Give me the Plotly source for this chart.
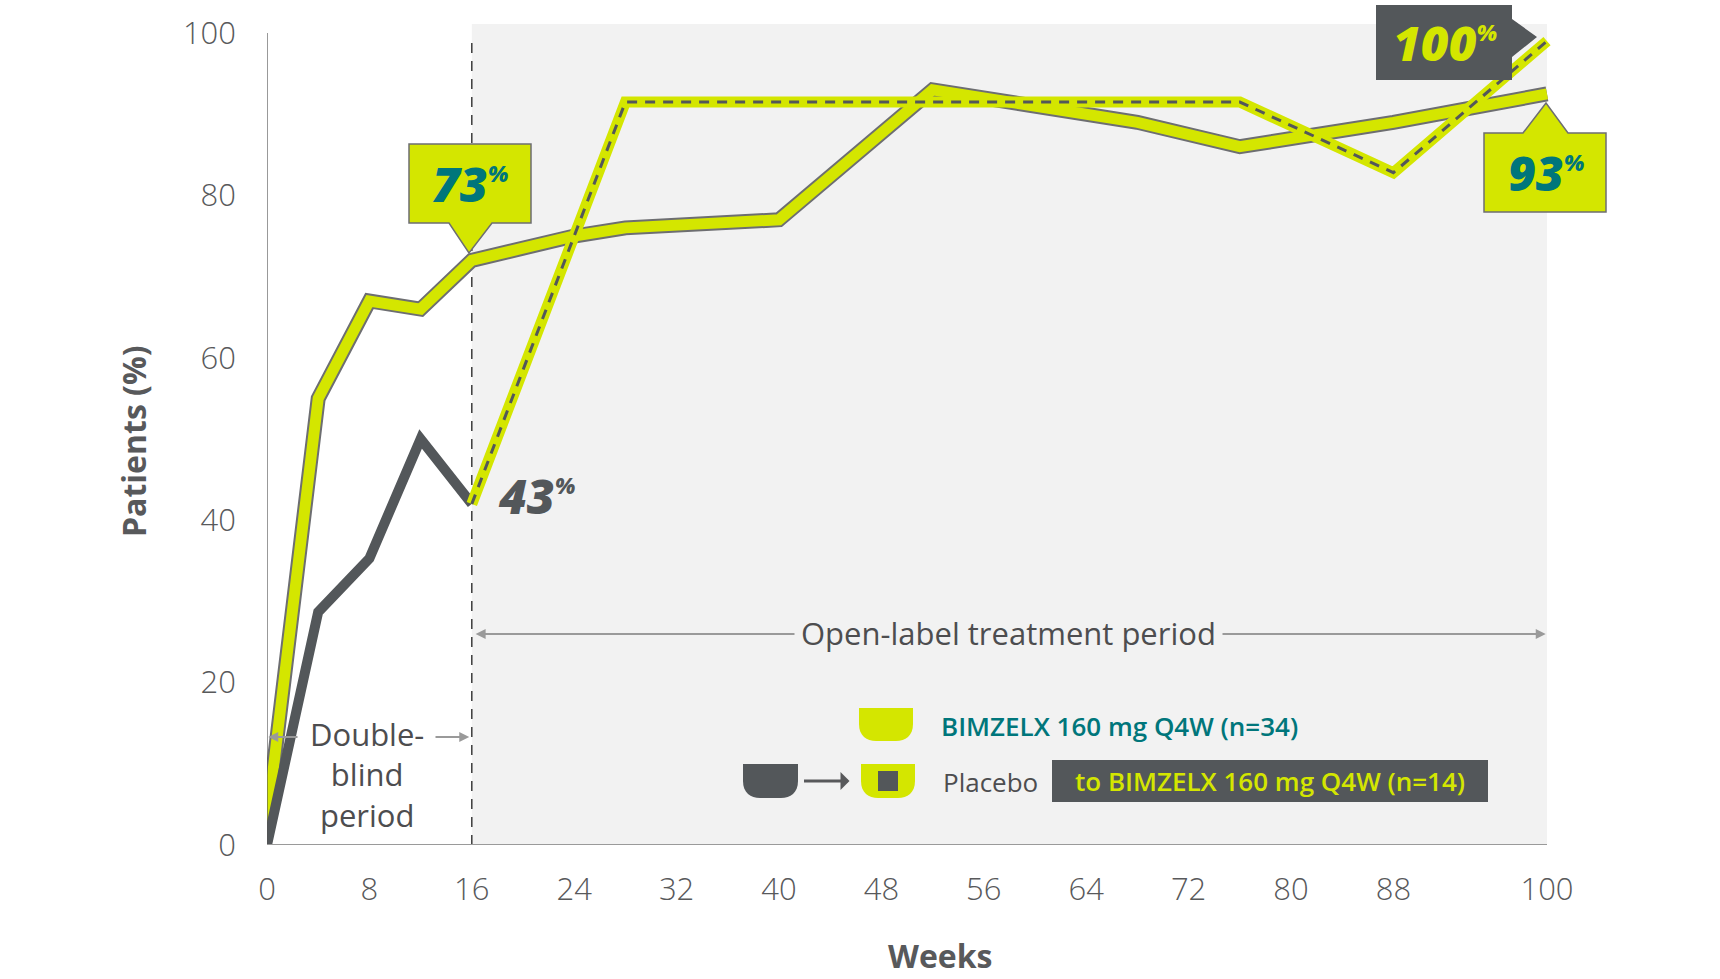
import plotly.graph_objects as go

# values
weeks_bimzelx = [0, 4, 8, 12, 16, 24, 28, 40, 52, 68, 76, 88, 100]
pct_bimzelx = [3, 55, 67, 66, 72, 75, 76, 77, 93, 89, 86, 89, 92.5]

weeks_placebo = [0, 4, 8, 12, 16]
pct_placebo = [0, 28.7, 35.3, 50, 42]

weeks_switch = [16, 28, 76, 88, 100]
pct_switch = [42, 91.5, 91.5, 82.8, 99]

x_ticks = [0, 8, 16, 24, 32, 40, 48, 56, 64, 72, 80, 88, 100]
y_ticks = [0, 20, 40, 60, 80, 100]

LIME = "#d4e600"
DARK = "#53575a"
TEAL = "#00767b"
GREY_TXT = "#58595b"
BG = "#f2f2f2"
FONT = "Open Sans"

# plot geometry (pixels) used to place the decorative callouts
W, H = 1720, 979
X0_PX, Y0_PX = 267, 845
PX_WK, PX_PCT = 12.8, 8.12
MARGIN_R = 40
PLOT_W = W - X0_PX - MARGIN_R


def wx(px):
    return (px - X0_PX) / PX_WK


def wy(py):
    return (Y0_PX - py) / PX_PCT


def poly(points):
    return "M " + " L ".join(f"{wx(a):.3f},{wy(b):.3f}" for a, b in points) + " Z"


def cup(x0, y0, x1, y1, r):
    return (f"M {wx(x0)},{wy(y0)} L {wx(x1)},{wy(y0)} L {wx(x1)},{wy(y1 - r)} "
            f"C {wx(x1)},{wy(y1 - r * 0.3)} {wx(x1 - r * 0.45)},{wy(y1)} {wx(x1 - r)},{wy(y1)} "
            f"L {wx(x0 + r)},{wy(y1)} "
            f"C {wx(x0 + r * 0.45)},{wy(y1)} {wx(x0)},{wy(y1 - r * 0.3)} {wx(x0)},{wy(y1 - r)} Z")


fig = go.Figure()

# BIMZELX line: dark outline under a lime band
fig.add_trace(go.Scatter(x=weeks_bimzelx, y=pct_bimzelx, mode="lines",
                         line=dict(color="#6d6e71", width=15), hoverinfo="skip"))
fig.add_trace(go.Scatter(x=weeks_bimzelx, y=pct_bimzelx, mode="lines",
                         line=dict(color=LIME, width=11), hoverinfo="skip"))
# placebo, double-blind period
fig.add_trace(go.Scatter(x=weeks_placebo, y=pct_placebo, mode="lines",
                         line=dict(color=DARK, width=10), hoverinfo="skip"))
# placebo -> BIMZELX
fig.add_trace(go.Scatter(x=weeks_switch, y=pct_switch, mode="lines",
                         line=dict(color=LIME, width=11), hoverinfo="skip"))
fig.add_trace(go.Scatter(x=weeks_switch, y=pct_switch, mode="lines",
                         line=dict(color=DARK, width=3, dash="10px,8px"), hoverinfo="skip"))

shapes = [
    dict(type="rect", x0=16, x1=100, y0=0, y1=wy(24), fillcolor=BG, line_width=0, layer="below"),
    dict(type="line", x0=16, x1=16, y0=0, y1=wy(43), line=dict(color="#3c3c3c", width=1.5, dash="10px,8px"),
         layer="below"),
    dict(type="line", x0=0, x1=0, y0=0, y1=100, line=dict(color="#555555", width=1.2)),
    dict(type="line", x0=0, x1=100, y0=0, y1=0, line=dict(color="#9a9a9a", width=2)),
    # callouts
    dict(type="path", path=poly([(409, 144), (531, 144), (531, 223), (492, 223), (469, 253), (449, 223), (409, 223)]),
         fillcolor=LIME, line=dict(color="#6d6e71", width=1.5)),
    dict(type="path", path=poly([(1484, 133), (1523, 133), (1546, 103), (1568, 133), (1606, 133), (1606, 212), (1484, 212)]),
         fillcolor=LIME, line=dict(color="#6d6e71", width=1.5)),
    dict(type="path", path=poly([(1376, 5), (1512, 5), (1512, 19), (1537, 37), (1512, 57), (1512, 80), (1376, 80)]),
         fillcolor=DARK, line_width=0),
    # legend icons
    dict(type="path", path=cup(859, 708, 913, 741, 17), fillcolor=LIME, line_width=0),
    dict(type="path", path=cup(743, 764, 798, 798, 17), fillcolor=DARK, line_width=0),
    dict(type="path", path=cup(861, 764, 915, 798, 17), fillcolor=LIME, line_width=0),
    dict(type="rect", x0=wx(878), x1=wx(898), y0=wy(791), y1=wy(771), fillcolor=DARK, line_width=0),
    dict(type="rect", x0=wx(1052), x1=wx(1488), y0=wy(802), y1=wy(760), fillcolor=DARK, line_width=0),
]

big = dict(family=FONT, size=48, weight=800, style="italic")
pct_sup = "<sup><span style='font-size:22px'>%</span></sup>"
body = dict(family=FONT, size=31, color="#4d4d4f")

annotations = [
    dict(x=wx(470), y=wy(183), text="73" + pct_sup, font=dict(big, color=TEAL)),
    dict(x=wx(1546), y=wy(172), text="93" + pct_sup, font=dict(big, color=TEAL)),
    dict(x=wx(1445), y=wy(42), text="100" + pct_sup, font=dict(big, color=LIME)),
    dict(x=wx(496), y=wy(495), text="43" + pct_sup, font=dict(big, color=DARK), xanchor="left"),
    # open-label arrows
    dict(x=16.3, y=wy(634), ax=58, ay=wy(634), axref="x", ayref="y", text="", showarrow=True,
         arrowhead=2, arrowsize=1, arrowwidth=2, arrowcolor="#9a9a9a"),
    dict(x=99.9, y=wy(634), ax=58, ay=wy(634), axref="x", ayref="y", text="", showarrow=True,
         arrowhead=2, arrowsize=1, arrowwidth=2, arrowcolor="#9a9a9a"),
    dict(x=wx(1008), y=wy(633), text="Open-label treatment period", font=body, bgcolor=BG, borderpad=6),
    # double-blind arrows
    dict(x=0.1, y=wy(737), ax=wx(299), ay=wy(737), axref="x", ayref="y", text="", showarrow=True,
         arrowhead=2, arrowsize=1, arrowwidth=2, arrowcolor="#9a9a9a"),
    dict(x=15.8, y=wy(737), ax=wx(434), ay=wy(737), axref="x", ayref="y", text="", showarrow=True,
         arrowhead=2, arrowsize=1, arrowwidth=2, arrowcolor="#9a9a9a"),
    dict(x=wx(367), y=wy(738), text="Double-<br>blind<br>period", font=body, yanchor="top", yshift=27),
    # legend
    dict(x=wx(804), y=wy(781), ax=wx(851), ay=wy(781), axref="x", ayref="y", text="", showarrow=True,
         arrowside="start", arrowhead=2, arrowsize=1, arrowwidth=3, arrowcolor=GREY_TXT),
    dict(x=wx(939), y=wy(726), text="BIMZELX 160 mg Q4W (n=34)", xanchor="left",
         font=dict(family=FONT, size=26, color=TEAL, weight=600)),
    dict(x=wx(941), y=wy(782), text="Placebo", xanchor="left",
         font=dict(family=FONT, size=26, color="#4d4d4f")),
    dict(x=wx(1270), y=wy(781), text="to BIMZELX 160 mg Q4W (n=14)",
         font=dict(family=FONT, size=26, color=LIME, weight=600)),
]
for a in annotations:
    a.setdefault("showarrow", False)
    a.setdefault("xref", "x")
    a.setdefault("yref", "y")

# axis titles sit outside the data range, so place them in paper units
annotations += [
    dict(xref="paper", yref="paper", x=(134 - X0_PX) / PLOT_W, y=(Y0_PX - 441) / Y0_PX,
         xanchor="center", yanchor="middle",
         text="Patients (%)", textangle=-90, showarrow=False,
         font=dict(family=FONT, size=32, color=GREY_TXT, weight=700)),
    dict(xref="paper", yref="paper", x=(940 - X0_PX) / PLOT_W, y=(Y0_PX - 955) / Y0_PX,
         xanchor="center", yanchor="middle",
         text="Weeks", showarrow=False,
         font=dict(family=FONT, size=32, color=GREY_TXT, weight=700)),
]

fig.update_layout(
    width=W, height=H,
    margin=dict(l=X0_PX, r=MARGIN_R, t=0, b=H - Y0_PX, pad=0),
    plot_bgcolor="white", paper_bgcolor="white",
    showlegend=False,
    shapes=shapes,
    annotations=annotations,
    xaxis=dict(range=[0, PLOT_W / PX_WK], tickvals=x_ticks, showgrid=False,
               zeroline=False, showline=False, ticklabelstandoff=23,
               tickfont=dict(family=FONT, size=31, color=GREY_TXT, weight=300)),
    yaxis=dict(range=[0, Y0_PX / PX_PCT], tickvals=y_ticks, showgrid=False,
               zeroline=False, showline=False, ticklabelstandoff=30,
               tickfont=dict(family=FONT, size=31, color=GREY_TXT, weight=300)),
)

fig.write_html("out.html", config={"displayModeBar": False},
               post_script="document.body.style.margin='0';")
